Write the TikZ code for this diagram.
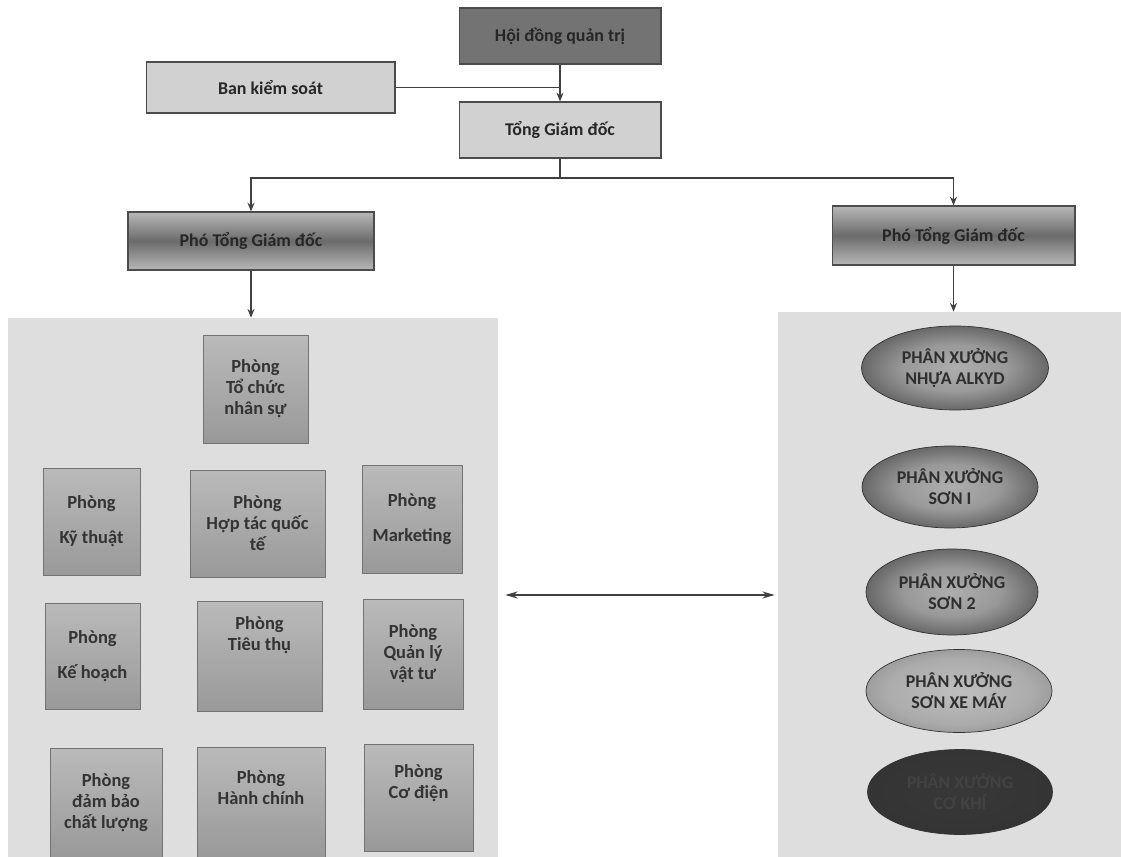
\documentclass[tikz,border=0pt]{standalone}
\usepackage{fontspec}
\setmainfont{Carlito}
\usetikzlibrary{shapes.geometric,arrows.meta,shadows}
\pgfdeclareradialshading{ellsh}{\pgfpoint{0bp}{0bp}}{color(0bp)=(black!32); color(14bp)=(black!40); color(30bp)=(black!68); color(42bp)=(black!82); color(50bp)=(black!88)}
\pgfdeclareradialshading{ellshlight}{\pgfpoint{0bp}{0bp}}{color(0bp)=(black!25); color(20bp)=(black!33); color(36bp)=(black!50); color(50bp)=(black!75)}
\pgfdeclareradialshading{ellshdark}{\pgfpoint{0bp}{0bp}}{color(0bp)=(black!78); color(30bp)=(black!80); color(50bp)=(black!85)}
\tikzset{
  topbox/.style={draw=black!70, line width=0.6pt, inner sep=0pt, align=center,
    font=\bfseries\fontsize{10.2}{12}\selectfont, text=black!85,
    drop shadow={shadow xshift=0.8pt, shadow yshift=-0.8pt, fill=black!60, opacity=0.8}},
  lightbox/.style={topbox, fill=black!18},
  darkbox/.style={topbox, fill=black!55},
  phobox/.style={topbox, top color=black!28, bottom color=black!28, middle color=black!58},
  panel/.style={draw=none, fill=black!13, inner sep=0pt},
  room/.style={draw=black!55, line width=0.5pt, inner sep=0pt, align=center,
    top color=black!27, bottom color=black!40,
    font=\bfseries\fontsize{10.5}{12}\selectfont, text=black!80,
    drop shadow={shadow xshift=0.8pt, shadow yshift=-0.8pt, fill=black!55, opacity=0.7}},
  wsell/.style={ellipse, draw=black!80, line width=0.4pt, inner sep=0pt, align=center,
    shading=ellsh, font=\bfseries\fontsize{10.2}{12}\selectfont, text=black!82},
  conn/.style={draw=black!75, line width=0.9pt},
  arr/.style={conn, -{Stealth[length=5pt,width=4pt]}},
}
\begin{document}
\begin{tikzpicture}[x=0.02cm,y=-0.02cm]
\useasboundingbox (0,0) rectangle (1121,857);
\fill[white] (0,0) rectangle (1121,857);
% panels
\node[panel, minimum width=9.8cm, minimum height=10.78cm] (lp) at (253,587.5) {};
\node[panel, minimum width=6.86cm, minimum height=10.9cm] (rp) at (949.5,584.5) {};
% top
\node[darkbox, minimum width=4.04cm, minimum height=1.12cm] (hdqt) at (560,36) {Hội đồng quản trị};
\node[lightbox, minimum width=4.98cm, minimum height=1.02cm] (bks) at (270.5,87.5) {Ban kiểm soát};
\node[lightbox, minimum width=4.04cm, minimum height=1.12cm] (tgd) at (560,130) {Tổng Giám đốc};
\node[phobox, minimum width=4.92cm, minimum height=1.16cm] (pho1) at (251,241) {Phó Tổng Giám đốc};
\node[phobox, minimum width=4.86cm, minimum height=1.18cm] (pho2) at (953.5,235.5) {Phó Tổng Giám đốc};
% rooms
\node[room, minimum width=2.1cm, minimum height=2.16cm] (b1) at (255.5,389) {Phòng\\Tổ chức\\nhân sự};
\node[room, minimum width=1.94cm, minimum height=2.14cm] (b2) at (91.5,521.5) {Phòng\\[8pt]Kỹ thuật};
\node[room, minimum width=2.7cm, minimum height=2.14cm] (b3) at (257.5,523.5) {Phòng\\Hợp tác quốc\\tế};
\node[room, minimum width=2.0cm, minimum height=2.16cm] (b4) at (412,519) {Phòng\\[8pt]Marketing};
\node[room, minimum width=1.9cm, minimum height=2.12cm] (b5) at (92.5,656) {Phòng\\[8pt]Kế hoạch};
\node[room, minimum width=2.5cm, minimum height=2.2cm] (b6) at (259.5,656) {Phòng\\Tiêu thụ\\[14pt]~};
\node[room, minimum width=2.0cm, minimum height=2.2cm] (b7) at (413,654) {Phòng\\Quản lý\\vật tư};
\node[room, minimum width=2.24cm, minimum height=2.18cm] (b8) at (106,802.5) {Phòng\\đảm bảo\\chất lượng};
\node[room, minimum width=2.56cm, minimum height=2.2cm] (b9) at (261,802) {Phòng\\Hành chính\\[4pt]~};
\node[room, minimum width=2.18cm, minimum height=2.14cm] (b10) at (418.5,797.5) {Phòng\\Cơ điện\\[6pt]~};
% workshops
\node[wsell, minimum width=3.74cm, minimum height=1.68cm] (e1) at (955,368) {PHÂN XƯỞNG\\NHỰA ALKYD};
\node[wsell, minimum width=3.52cm, minimum height=1.64cm] (e2) at (950,487) {PHÂN XƯỞNG\\SƠN I};
\node[wsell, minimum width=3.44cm, minimum height=1.72cm] (e3) at (952,592) {PHÂN XƯỞNG\\SƠN 2};
\node[wsell, shading=ellshlight, minimum width=3.72cm, minimum height=1.66cm] (e4) at (959,691) {PHÂN XƯỞNG\\SƠN XE MÁY};
\node[wsell, shading=ellshdark, text=black!74, minimum width=3.7cm, minimum height=1.7cm] (e5) at (960,792) {PHÂN XƯỞNG\\CƠ KHÍ};
% connectors
\draw[arr] (hdqt.south) -- (tgd.north);
\draw[conn] (bks.east) -- (bks.east -| hdqt.south);
\coordinate (split) at (560,178);
\draw[conn] (tgd.south) -- (split);
\draw[arr] (split) -| (pho1.north);
\draw[arr] (split) -| (pho2.north);
\draw[arr] (pho1.south) -- (pho1.south |- lp.north);
\draw[arr] (pho2.south) -- (pho2.south |- rp.north);
\coordinate (mid) at (640,595);
\draw[conn, {Stealth[length=7pt,width=4pt]}-{Stealth[length=7pt,width=4pt]}] ([xshift=0.14cm]lp.east |- mid) -- ([xshift=-0.06cm]rp.west |- mid);
\end{tikzpicture}
\end{document}
